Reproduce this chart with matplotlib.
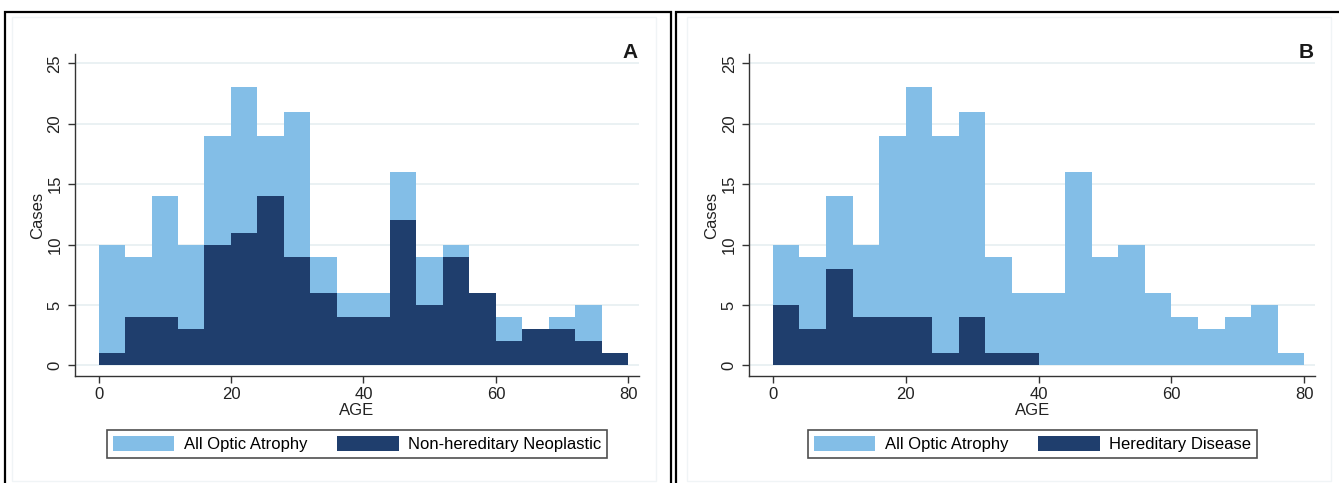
import matplotlib
matplotlib.use("Agg")
import matplotlib.pyplot as plt
from matplotlib.patches import Rectangle, Patch

plt.rcParams['font.family'] = ['Liberation Sans', 'DejaVu Sans']

# -----------------------------
# Data (age bins of 4 years)
# -----------------------------
bin_starts = [0, 4, 8, 12, 16, 20, 24, 28, 32, 36,
              40, 44, 48, 52, 56, 60, 64, 68, 72, 76]
all_optic = [10, 9, 14, 10, 19, 23, 19, 21, 9, 6,
             6, 16, 9, 10, 6, 4, 3, 4, 5, 1]
neoplastic = [1, 4, 4, 3, 10, 11, 14, 9, 6, 4,
              4, 12, 5, 9, 6, 2, 3, 3, 2, 1]
hereditary = [5, 3, 8, 4, 4, 4, 1, 4, 1, 1,
              0, 0, 0, 0, 0, 0, 0, 0, 0, 0]

x_ticks = [0, 20, 40, 60, 80]
y_ticks = [0, 5, 10, 15, 20, 25]

light = '#83bee7'
dark = '#1f3e6d'
grid_col = '#e6eff1'

W, H = 1339, 483
fig = plt.figure(figsize=(W / 100, H / 100), dpi=100)


def fx(px):
    return px / W


def fy(py):
    return 1 - py / H


# panel frames
fig.add_artist(Rectangle((fx(5), fy(495)), fx(666), fy(12) - fy(495),
                         transform=fig.transFigure, fill=False,
                         edgecolor='black', lw=1.6))
fig.add_artist(Rectangle((fx(676), fy(495)), fx(680), fy(12) - fy(495),
                         transform=fig.transFigure, fill=False,
                         edgecolor='black', lw=1.6))
# faint inner borders
for x0, x1 in [(12, 656), (687, 1331)]:
    fig.add_artist(Rectangle((fx(x0), fy(481)), fx(x1 - x0), fy(17) - fy(481),
                             transform=fig.transFigure, fill=False,
                             edgecolor='#f0f4f6', lw=1))

panels = [
    dict(left=75, right=639, sub=neoplastic, sub_name='Non-hereditary Neoplastic',
         letter='A', leg=(106, 608)),
    dict(left=749.3, right=1315, sub=hereditary, sub_name='Hereditary Disease',
         letter='B', leg=(806.7, 1258)),
]

top_px, bot_px = 54, 376

for p in panels:
    ax = fig.add_axes([fx(p['left']), fy(bot_px),
                       fx(p['right'] - p['left']), fy(top_px) - fy(bot_px)])
    ax.bar(bin_starts, all_optic, width=4, align='edge', color=light,
           linewidth=0, zorder=2)
    ax.bar(bin_starts, p['sub'], width=4, align='edge', color=dark,
           linewidth=0, zorder=3)

    ax.set_xlim(-3.55, 81.6)
    ax.set_ylim(-0.87, 25.77)
    ax.set_xticks(x_ticks)
    ax.set_yticks(y_ticks)
    ax.set_yticklabels([str(v) for v in y_ticks], rotation=90, va='center')
    ax.tick_params(axis='both', labelsize=12, length=5, width=1,
                   color='#333333', labelcolor='#222222')
    ax.tick_params(axis='y', pad=4)
    ax.tick_params(axis='x', pad=3)

    for s in ['top', 'right']:
        ax.spines[s].set_visible(False)
    for s in ['left', 'bottom']:
        ax.spines[s].set_linewidth(1)
        ax.spines[s].set_color('#333333')

    ax.set_axisbelow(True)
    ax.yaxis.grid(True, color=grid_col, lw=1.2, zorder=0)

    ax.set_xlabel('AGE', fontsize=12, color='#222222')
    ax.xaxis.set_label_coords(0.5, (bot_px - 410.7) / (bot_px - top_px))
    ax.xaxis.label.set_va('center')
    ax.set_ylabel('Cases', fontsize=12, color='#222222')
    ax.yaxis.set_label_coords(-37.5 / (p['right'] - p['left']), 0.5)
    ax.yaxis.label.set_va('center')

    ax.text(0.998, (bot_px - 53) / (bot_px - top_px), p['letter'],
            transform=ax.transAxes, ha='right', va='center',
            fontsize=15, fontweight='bold', color='#1a1a1a')

    handles = [Patch(facecolor=light, edgecolor='none', label='All Optic Atrophy'),
               Patch(facecolor=dark, edgecolor='none', label=p['sub_name'])]
    lx0, lx1 = p['leg']
    leg = fig.legend(handles=handles, loc='center', ncol=2,
                     bbox_to_anchor=(fx((lx0 + lx1) / 2), fy(444)),
                     fontsize=12, frameon=True, fancybox=False,
                     edgecolor='#222222', handlelength=3.7, handleheight=1.0,
                     handletextpad=0.55, columnspacing=1.8, borderpad=0.35)
    leg.get_frame().set_linewidth(1.2)

fig.savefig('out.png', dpi=100)
